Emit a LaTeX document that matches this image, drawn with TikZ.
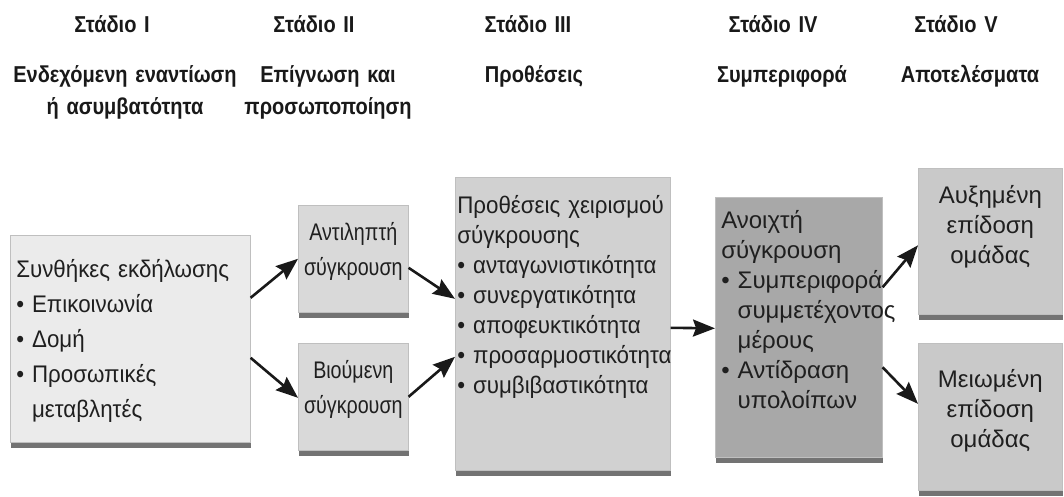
\documentclass[tikz,border=0pt]{standalone}
\usepackage{fontspec}
\setmainfont{Liberation Sans}
\newfontfamily\stagefont{Liberation Sans}[FakeStretch=0.87]
\newfontfamily\slimfont{Liberation Sans}[FakeStretch=0.82]
\newfontfamily\midfont{Liberation Sans}[FakeStretch=0.93]
\usetikzlibrary{arrows.meta,shadows}

\begin{document}
\begin{tikzpicture}[x=1pt,y=-1pt,
  stage/.style={anchor=base,text width=260pt,align=center,font=\stagefont\bfseries\fontsize{23}{32}\selectfont,text=black!90},
  box/.style={anchor=north west,draw=white!75!black,line width=.6pt,inner ysep=4pt,inner xsep=6pt,text=black!88,
    drop shadow={shadow xshift=1pt,shadow yshift=-6pt,opacity=.55,fill=black}},
  wide/.style={font=\fontsize{24}{35}\selectfont},
  narrow/.style={font=\fontsize{24}{30}\selectfont},
  flow/.style={line width=2.6pt,black!90,-{Stealth[length=22pt,width=17pt,inset=3pt]}}]
\useasboundingbox (0,0) rectangle (1064,496);
% Stage titles
\node[stage] (s1) at (112,32) {Στάδιο I};
\node[stage] (s2) at (314,32) {Στάδιο II};
\node[stage] (s3) at (528,32) {Στάδιο III};
\node[stage] (s4) at (773,32) {Στάδιο IV};
\node[stage] (s5) at (956,32) {Στάδιο V};
\node[stage] (h1) at (125,82) {Ενδεχόμενη εναντίωση\\ή ασυμβατότητα};
\node[stage] (h2) at (328,82) {Επίγνωση και\\προσωποποίηση};
\node[stage] (h3) at (534,82) {Προθέσεις};
\node[stage] (h4) at (782,82) {Συμπεριφορά};
\node[stage] (h5) at (970,82) {Αποτελέσματα};
% Stage I
\node[box,wide,fill=black!8,text width=228pt,align=left,text height=38pt,text depth=161pt] (cond) at (10,235)
  {\midfont Συνθήκες εκδήλωσης\\•~Επικοινωνία\\•~Δομή\\•~Προσωπικές\\\phantom{•~}μεταβλητές};
% Stage II
\node[box,wide,fill=black!15,inner xsep=4pt,text width=102pt,align=center,text height=31pt,text depth=68pt] (felt) at (298,205)
  {\slimfont Αντιληπτή\\σύγκρουση};
\node[box,wide,fill=black!15,inner xsep=4pt,text width=102pt,align=center,text height=31pt,text depth=68pt] (lived) at (298,343)
  {\slimfont Βιούμενη\\σύγκρουση};
% Stage III
\node[box,narrow,fill=black!18,inner xsep=2pt,text width=211pt,align=left,text height=32pt,text depth=253pt] (intent) at (455,177)
  {\midfont Προθέσεις χειρισμού\\σύγκρουσης\\•~ανταγωνιστικότητα\\•~συνεργατικότητα\\•~αποφευκτικότητα\\•~προσαρμοστικότητα\\•~συμβιβαστικότητα};
% Stage IV
\node[box,narrow,fill=black!34,text width=155pt,align=left,text height=27pt,text depth=225pt] (open) at (715,197)
  {Ανοιχτή\\σύγκρουση\\•~Συμπεριφορά\\\phantom{•~}συμμετέχοντος\\\phantom{•~}μέρους\\•~Αντίδραση\\\phantom{•~}υπολοίπων};
% Stage V
\node[box,narrow,fill=black!21,text width=132pt,align=center,text height=31pt,text depth=107pt] (up) at (918,168)
  {Αυξημένη\\επίδοση\\ομάδας};
\node[box,narrow,fill=black!21,text width=132pt,align=center,text height=40pt,text depth=99pt] (down) at (918,343)
  {Μειωμένη\\επίδοση\\ομάδας};
% Arrows
\draw[flow] ([yshift=41pt]cond.east) -- (felt.west);
\draw[flow] ([yshift=-19pt]cond.east) -- ([yshift=-1pt]lived.west);
\draw[flow] ([yshift=-9pt]felt.east) -- ([yshift=25pt]intent.west);
\draw[flow] (lived.east) -- ([yshift=-33pt]intent.west);
\draw[flow] ([yshift=-4pt]intent.east) -- ([yshift=-1pt]open.west);
\draw[flow] ([yshift=40pt]open.east) -- ([yshift=-4pt]up.west);
\draw[flow] ([yshift=-40pt]open.east) -- ([yshift=13pt]down.west);
\end{tikzpicture}
\end{document}
